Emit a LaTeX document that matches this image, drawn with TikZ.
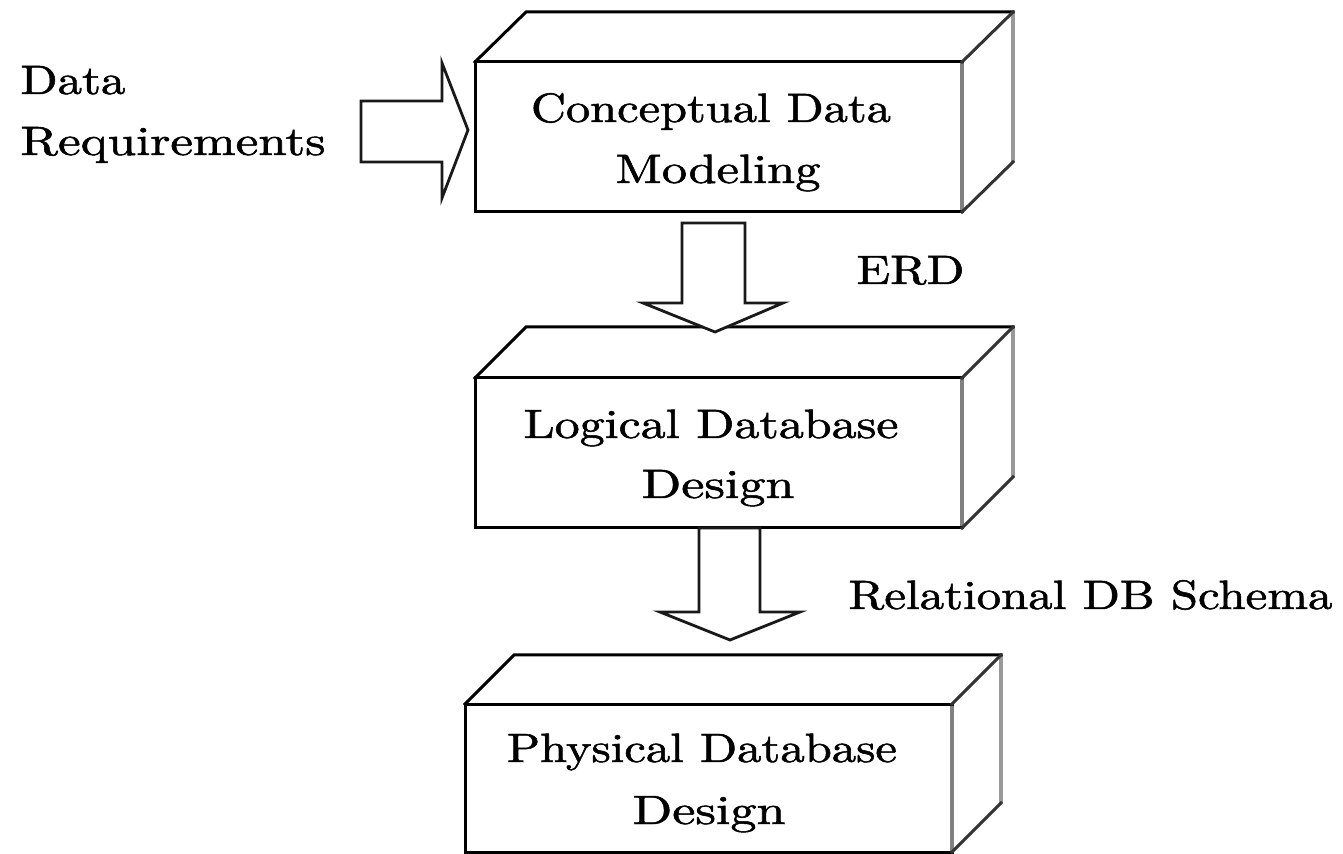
\documentclass[tikz,border=0pt]{standalone}
\usepackage{graphicx}
\usepackage{fontspec}
\setmainfont{lmroman10-regular.otf}[FakeBold=1.2]
\newcommand\fitw[2]{\resizebox{#1}{\height}{#2}}
\tikzset{
  edge/.style={line width=1.5pt, draw=black, line cap=rect, line join=miter},
  darkedge/.style={line width=1.5pt, draw=black!80, line cap=rect},
  shadeedge/.style={line width=1.9pt, draw=black!50},
  backedge/.style={line width=1.9pt, draw=black!40},
  blockarrow/.style={draw=black!90, line width=1.4pt, fill=white, line join=miter},
  lbl/.style={inner sep=0pt, anchor=base, font=\fontsize{20.5}{24}\selectfont},
  % box in cabinet projection: width, height, depth x, depth y (pixels)
  pics/cuboid/.style n args={4}{code={
    \coordinate (-ftl) at (0,0);
    \coordinate (-ftr) at (#1,0);
    \coordinate (-fbl) at (0,#2);
    \coordinate (-fbr) at (#1,#2);
    \coordinate (-btl) at (#3,-#4);
    \coordinate (-btr) at (#1+#3,-#4);
    \coordinate (-bbr) at (#1+#3,#2-#4);
    \draw[shadeedge] (-ftr) -- (-fbr);
    \draw[backedge] (-btr) -- (-bbr);
    \draw[edge] (-ftr) -- (-ftl) -- (-fbl) -- (-fbr);
    \draw[edge] (-ftl) -- (-btl) -- (-btr);
    \draw[darkedge] (-ftr) -- (-btr);
    \draw[darkedge] (-bbr) -- (-fbr);
  }},
}
\begin{document}
\begin{tikzpicture}[x=0.5pt, y=-0.5pt]
  \useasboundingbox (0,0) rectangle (1343,854);
  \fill[white] (0,0) rectangle (1343,854);

  % the three design stages
  \pic (cdm) at (475,62)  {cuboid={487}{150}{51}{50}};
  \pic (ldd) at (475,378) {cuboid={487}{150}{51}{51}};
  \pic (pdd) at (465,704) {cuboid={487}{148}{49}{49}};

  % block arrows between stages
  \draw[blockarrow] (361,101) -- (442,101) -- (442,63) -- (468,130)
    -- (442,198) -- (442,162) -- (361,162) -- cycle;
  \draw[blockarrow] (682,223) -- (745,223) -- (745,303) -- (783,303)
    -- (715,332) -- (643,303) -- (682,303) -- cycle;
  \draw[blockarrow] (699,528) -- (760,528) -- (760,612) -- (800,612)
    -- (730,640) -- (660,612) -- (699,612) -- cycle;

  % labels
  \node[lbl, anchor=base west] (dreq1) at (20,94)  {\fitw{52.5pt}{Data}};
  \node[lbl, anchor=base west] (dreq2) at (20,155) {\fitw{152.5pt}{Requirements}};
  \node[lbl] (cdm1) at (711,122) {\fitw{180pt}{Conceptual Data}};
  \node[lbl] (cdm2) at (718,183) {\fitw{102.5pt}{Modeling}};
  \node[lbl] (ldd1) at (711,438) {\fitw{187.5pt}{Logical Database}};
  \node[lbl] (ldd2) at (718,498) {\fitw{76.5pt}{Design}};
  \node[lbl] (pdd1) at (702,762) {\fitw{195pt}{Physical Database}};
  \node[lbl] (pdd2) at (709,824) {\fitw{76.5pt}{Design}};
  \node[lbl, anchor=base west] (erd) at (856,284) {\fitw{54pt}{ERD}};
  \node[lbl, anchor=base west] (rdbs) at (848,609) {\fitw{242pt}{Relational DB Schema}};
\end{tikzpicture}
\end{document}
